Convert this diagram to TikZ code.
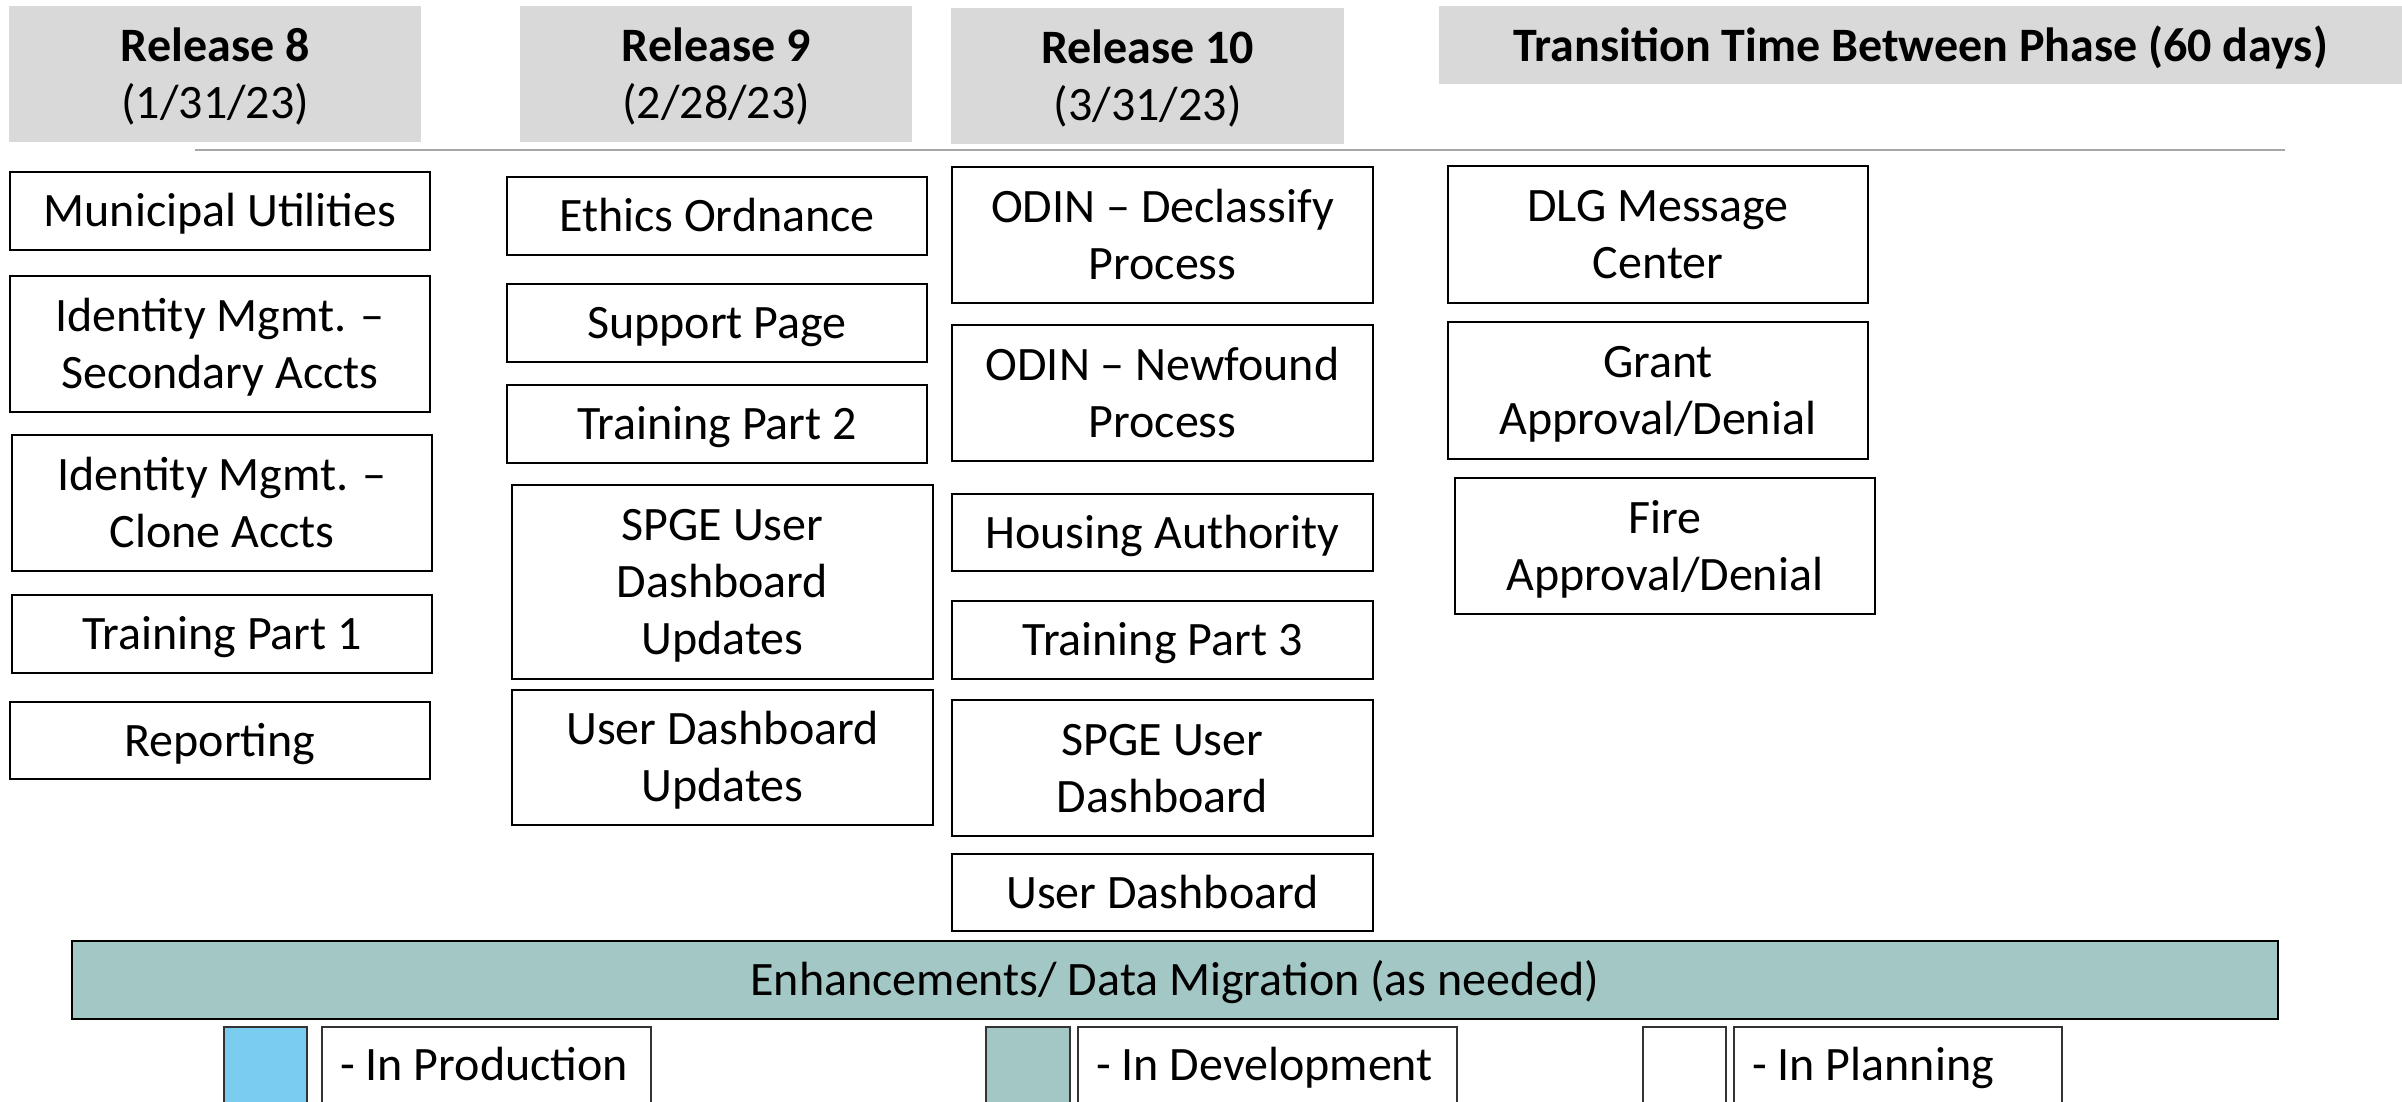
\documentclass[tikz,border=0pt]{standalone}
\usepackage{fontspec}
\setmainfont{Carlito}
\definecolor{hdrgray}{HTML}{D9D9D9}
\definecolor{devcol}{HTML}{A3C7C5}
\definecolor{prodcol}{HTML}{7BCDEF}
\definecolor{rulegray}{HTML}{A6A6A6}
\newcommand{\bigfs}{\fontsize{48}{57}\selectfont}
\newcommand{\nl}{\strut\\\strut}
\begin{document}
\begin{tikzpicture}[x=1pt,y=-1pt,
  box/.style={draw=black, line width=2pt, inner sep=0pt, anchor=north west, fill=white},
  hdr/.style={fill=hdrgray, inner sep=0pt, anchor=north west},
  lbl/.style={font=\bigfs, align=center, inner sep=0pt, yshift=-4.5pt,
    execute at begin node=\strut, execute at end node=\strut},
  legsq/.style={draw=black!80, line width=1.5pt, inner sep=0pt, anchor=north west},
  legtxt/.style={font=\bigfs, anchor=base west, inner sep=0pt}]
\useasboundingbox (0,0) rectangle (2402,1102);
\clip (0,0) rectangle (2402,1102);

% headers
\node[hdr, minimum width=412pt, minimum height=136pt, label={[lbl]center:{\textbf{Release 8}\nl(1/31/23)}}] (r8) at (9,6) {};
\node[hdr, minimum width=392pt, minimum height=136pt, label={[lbl]center:{\textbf{Release 9}\nl(2/28/23)}}] (r9) at (520,6) {};
\node[hdr, minimum width=393pt, minimum height=136pt, label={[lbl]center:{\textbf{Release 10}\nl(3/31/23)}}] (r10) at (951,8) {};
\node[hdr, minimum width=963pt, minimum height=78pt, label={[lbl]center:{\textbf{Transition Time Between Phase (60 days)}}}] (tr) at (1439,6) {};

\coordinate (ruleA) at (195,150);
\coordinate (ruleB) at (2285,150);
\draw[rulegray, line width=2.5pt] (ruleA) -- (ruleB);

% column 1
\node[box, minimum width=420pt, minimum height=78pt, label={[lbl]center:{Municipal Utilities}}] (mu) at (9,171) {};
\node[box, minimum width=420pt, minimum height=136pt, label={[lbl]center:{Identity Mgmt. –\nl Secondary Accts}}] (ims) at (9,275) {};
\node[box, minimum width=420pt, minimum height=136pt, label={[lbl]center:{Identity Mgmt. –\nl Clone Accts}}] (imc) at (11,434) {};
\node[box, minimum width=420pt, minimum height=78pt, label={[lbl]center:{Training Part 1}}] (tp1) at (11,594) {};
\node[box, minimum width=420pt, minimum height=77pt, label={[lbl]center:{Reporting}}] (rep) at (9,701) {};

% column 2
\node[box, minimum width=420pt, minimum height=78pt, label={[lbl]center:{Ethics Ordnance}}] (eth) at (506,176) {};
\node[box, minimum width=420pt, minimum height=78pt, label={[lbl]center:{Support Page}}] (sup) at (506,283) {};
\node[box, minimum width=420pt, minimum height=78pt, label={[lbl]center:{Training Part 2}}] (tp2) at (506,384) {};
\node[box, minimum width=421pt, minimum height=194pt, label={[lbl]center:{SPGE User\nl Dashboard\nl Updates}}] (spgeu) at (511,484) {};
\node[box, minimum width=421pt, minimum height=135pt, label={[lbl]center:{User Dashboard\nl Updates}}] (udu) at (511,689) {};

% column 3
\node[box, minimum width=421pt, minimum height=136pt, label={[lbl]center:{ODIN – Declassify\nl Process}}] (odd) at (951,166) {};
\node[box, minimum width=421pt, minimum height=136pt, label={[lbl]center:{ODIN – Newfound\nl Process}}] (odn) at (951,324) {};
\node[box, minimum width=421pt, minimum height=77pt, label={[lbl]center:{Housing Authority}}] (ha) at (951,493) {};
\node[box, minimum width=421pt, minimum height=78pt, label={[lbl]center:{Training Part 3}}] (tp3) at (951,600) {};
\node[box, minimum width=421pt, minimum height=136pt, label={[lbl]center:{SPGE User\nl Dashboard}}] (spge) at (951,699) {};
\node[box, minimum width=421pt, minimum height=77pt, label={[lbl]center:{User Dashboard}}] (ud) at (951,853) {};

% column 4
\node[box, minimum width=420pt, minimum height=137pt, label={[lbl]center:{DLG Message\nl Center}}] (dlg) at (1447,165) {};
\node[box, minimum width=420pt, minimum height=137pt, label={[lbl]center:{Grant\nl Approval/Denial}}] (grant) at (1447,321) {};
\node[box, minimum width=420pt, minimum height=136pt, label={[lbl]center:{Fire\nl Approval/Denial}}] (fire) at (1454,477) {};

% enhancements bar
\node[box, fill=devcol, minimum width=2206pt, minimum height=78pt, label={[lbl]center:{Enhancements/ Data Migration (as needed)}}] (enh) at (71,940) {};

% legend
\node[legsq, fill=prodcol, minimum width=83pt, minimum height=100pt] (sqp) at (223,1026) {};
\node[legsq, fill=white, minimum width=329pt, minimum height=100pt] (bxp) at (321,1026) {};
\node[legtxt] (txp) at (340,1080) {- In Production};
\node[legsq, fill=devcol, minimum width=84pt, minimum height=100pt] (sqd) at (985,1026) {};
\node[legsq, fill=white, minimum width=379pt, minimum height=100pt] (bxd) at (1077,1026) {};
\node[legtxt] (txd) at (1096,1080) {- In Development};
\node[legsq, fill=white, minimum width=83pt, minimum height=100pt] (sqn) at (1642,1026) {};
\node[legsq, fill=white, minimum width=328pt, minimum height=100pt] (bxn) at (1733,1026) {};
\node[legtxt] (txn) at (1752,1080) {- In Planning};
\end{tikzpicture}
\end{document}
